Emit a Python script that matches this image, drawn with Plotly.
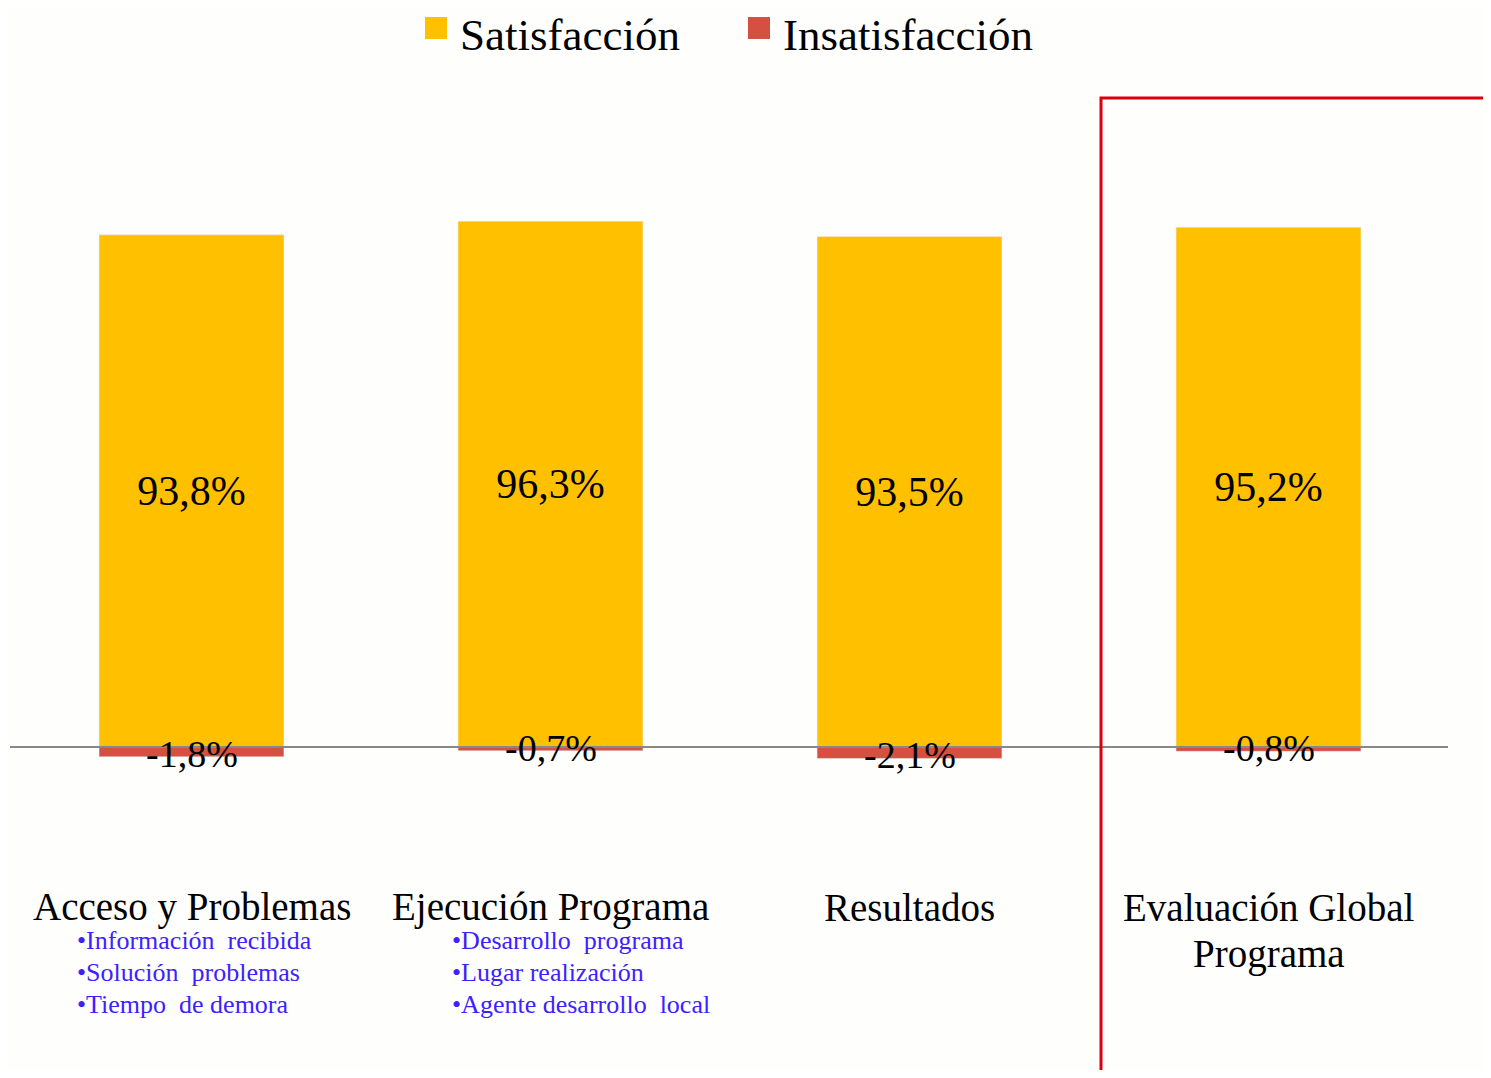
import plotly.graph_objects as go

categories = ["Acceso y Problemas", "Ejecución Programa", "Resultados", "Evaluación Global<br>Programa"]
satisfaccion = [93.8, 96.3, 93.5, 95.2]
insatisfaccion = [-1.8, -0.7, -2.1, -0.8]
bullets_acceso = ["•Información  recibida", "•Solución  problemas", "•Tiempo  de demora"]
bullets_ejecucion = ["•Desarrollo  programa", "•Lugar realización", "•Agente desarrollo  local"]

# page body has an 8px margin; figure placed at (8, 8)
OFF = 8
W, H = 1491 - 2 * OFF, 1078 - 2 * OFF
PW, PH = 1436, 740
ML, MT = 12 - OFF, 60 - OFF
MR, MB = W - ML - PW, H - MT - PH

def px(x):
    # reference page pixel -> paper x
    return (x - OFF - ML) / PW

def py(y):
    # reference page pixel -> paper y
    return (MT + PH - (y - OFF)) / PH

def fmt(v):
    return f"{v:.1f}".replace(".", ",") + "%"

YEL = "#FFC000"
RED = "#D65041"
SERIF = "Liberation Serif, Times New Roman, serif"

fig = go.Figure()
fig.add_trace(go.Bar(
    x=categories, y=satisfaccion, name="Satisfacción", marker_color=YEL,
    width=0.515, text=[fmt(v) for v in satisfaccion], textposition="inside",
    insidetextanchor="middle", constraintext="none",
    textfont=dict(family=SERIF, size=42, color="black"), showlegend=False))
fig.add_trace(go.Bar(
    x=categories, y=insatisfaccion, name="Insatisfacción", marker_color=RED,
    width=0.515, showlegend=False))

annotations = []
for c, v in zip(categories, insatisfaccion):
    annotations.append(dict(x=c, y=v, xref="x", yref="y", text=fmt(v), showarrow=False,
                            yanchor="middle", yshift=3,
                            font=dict(family=SERIF, size=38, color="black")))
# category labels (one annotation per line for exact line spacing)
for c in categories:
    for i, line in enumerate(c.split("<br>")):
        annotations.append(dict(x=c, y=py(907 + 47 * i), xref="x", yref="paper", text=line,
                                showarrow=False, yanchor="middle",
                                font=dict(family=SERIF, size=39, color="black")))
for i, t in enumerate(bullets_acceso):
    annotations.append(dict(x=px(75), y=py(940 + 32 * i), xref="paper", yref="paper", text=t,
                            showarrow=False, xanchor="left", yanchor="middle",
                            font=dict(family=SERIF, size=26, color="#3D22FF")))
for i, t in enumerate(bullets_ejecucion):
    annotations.append(dict(x=px(450), y=py(940 + 32 * i), xref="paper", yref="paper", text=t,
                            showarrow=False, xanchor="left", yanchor="middle",
                            font=dict(family=SERIF, size=26, color="#3D22FF")))
# legend
for name, col, sx in [("Satisfacción", YEL, 425), ("Insatisfacción", RED, 748)]:
    annotations.append(dict(x=px(sx + 33), y=py(8), xref="paper", yref="paper", text=name,
                            showarrow=False, xanchor="left", yanchor="top",
                            font=dict(family=SERIF, size=45, color="black")))

shapes = []
for col, sx in [(YEL, 425), (RED, 748)]:
    shapes.append(dict(type="rect", xref="paper", yref="paper", x0=px(sx), x1=px(sx + 22),
                       y0=py(17), y1=py(39), fillcolor=col, line=dict(width=0)))
# zero line
shapes.append(dict(type="line", xref="paper", yref="y", x0=px(10), x1=px(1448), y0=0, y1=0,
                   line=dict(color="#888888", width=2), layer="above"))
# red frame
shapes.append(dict(type="path", xref="paper", yref="paper",
                   path=f"M {px(1101)} {py(1090)} L {px(1101)} {py(98)} L {px(1495)} {py(98)}",
                   line=dict(color="#D7000F", width=3)))

fig.update_layout(
    width=W, height=H,
    margin=dict(l=ML, r=MR, t=MT, b=MB),
    paper_bgcolor="#FEFEFD", plot_bgcolor="#FEFEFD",
    barmode="relative", showlegend=False,
    xaxis=dict(showticklabels=False, showgrid=False, zeroline=False, showline=False,
               range=[-0.5, 3.5]),
    yaxis=dict(showticklabels=False, showgrid=False, zeroline=False, showline=False,
               range=[-9.71, 125.82]),
    annotations=annotations, shapes=shapes,
)
fig.write_html("out.html")
